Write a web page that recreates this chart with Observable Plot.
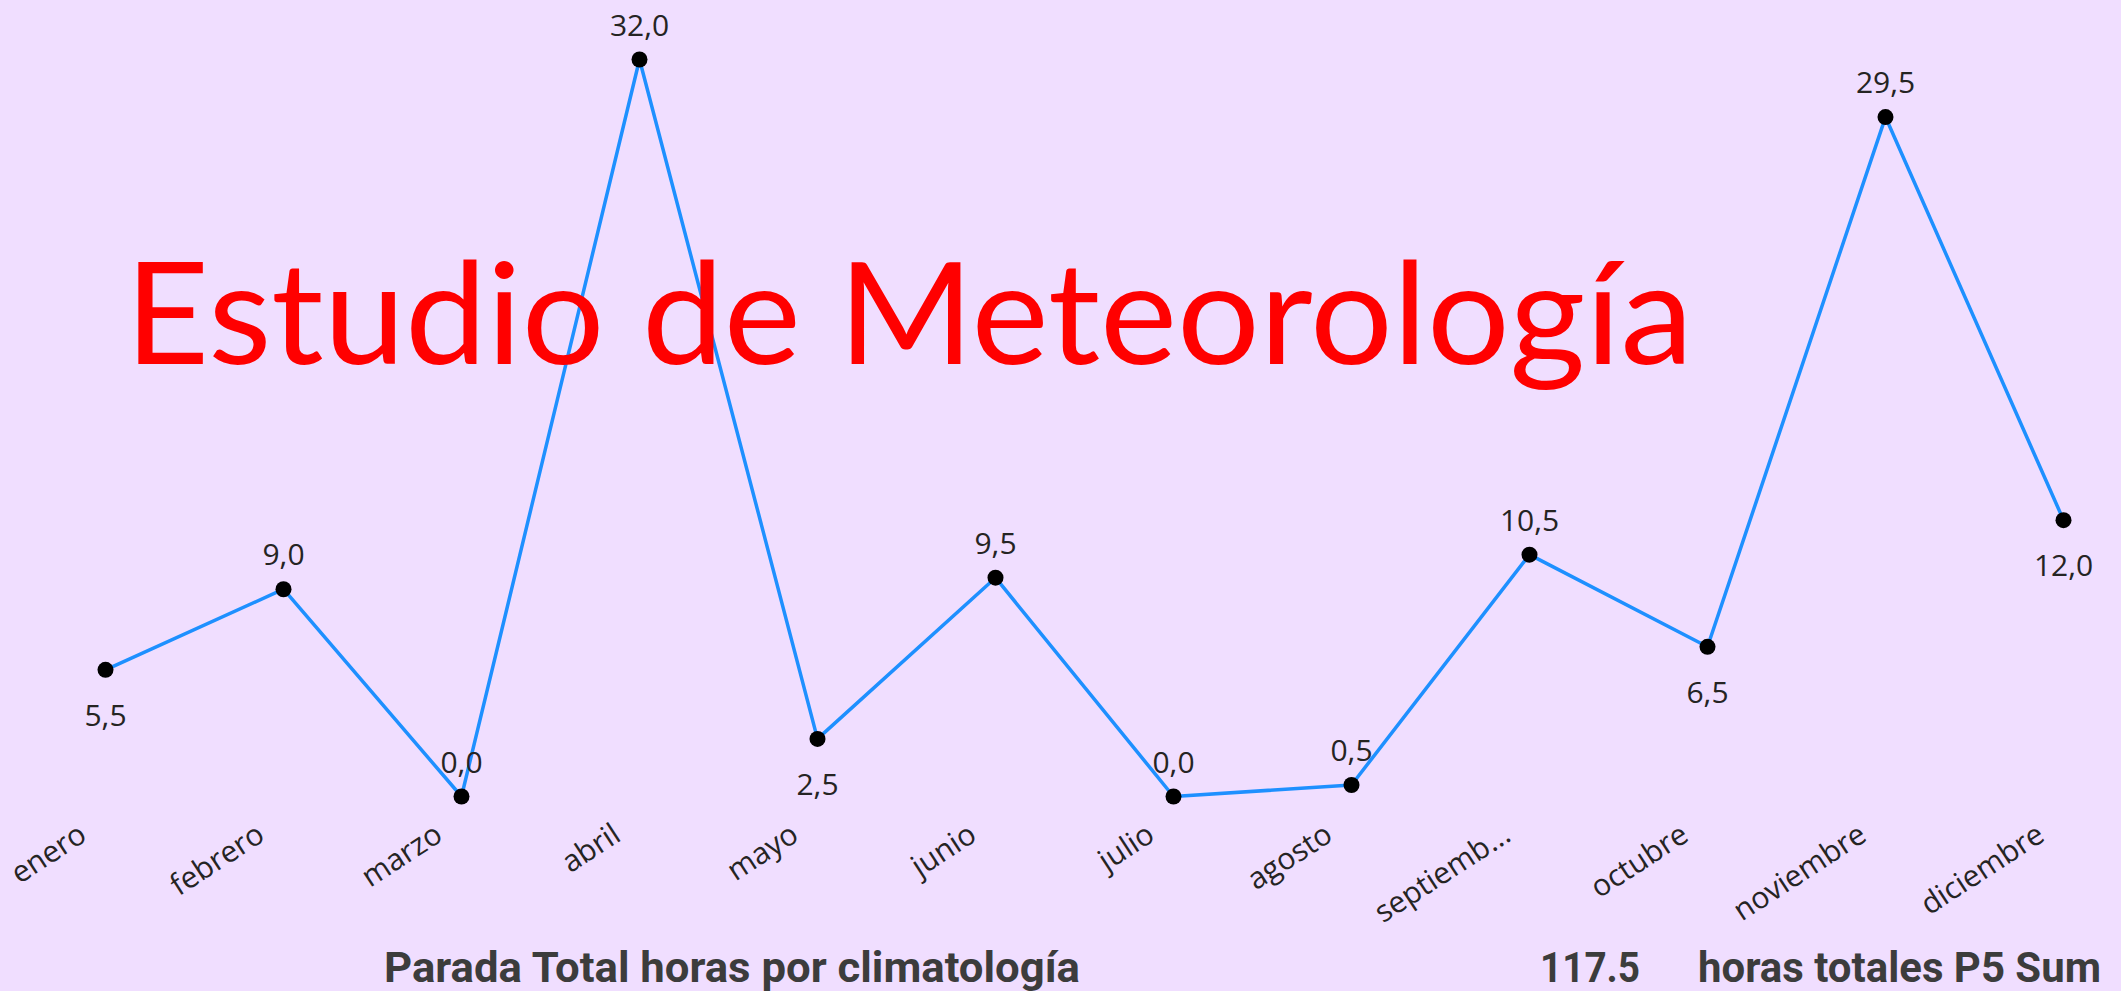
<!DOCTYPE html>
<html>
<head>
<meta charset="utf-8">
<script src="https://cdn.jsdelivr.net/npm/d3@7"></script>
<script src="https://cdn.jsdelivr.net/npm/@observablehq/plot@0.6"></script>
<style>
  html, body { margin: 0; padding: 0; background: #F0DEFF; width: 2121px; height: 991px; overflow: hidden; }
  #chart, #footer { display: block; }
  svg { display: block; }
</style>
</head>
<body>
<div id="chart"></div>
<div id="footer"></div>
<script>
// ---- data ----
const months = ["enero", "febrero", "marzo", "abril", "mayo", "junio", "julio", "agosto", "septiembre", "octubre", "noviembre", "diciembre"];
const tickLabels = ["enero", "febrero", "marzo", "abril", "mayo", "junio", "julio", "agosto", "septiemb...", "octubre", "noviembre", "diciembre"];
const hours = [5.5, 9.0, 0.0, 32.0, 2.5, 9.5, 0.0, 0.5, 10.5, 6.5, 29.5, 12.0];
const titleText = "Estudio de Meteorología";
const captionText = "Parada Total horas por climatología";
const totalValue = "117.5";
const totalLabel = "horas totales P5 Sum";

// label below the point when it is a positive local minimum
const data = months.map((m, i) => {
  const v = hours[i];
  const nb = [hours[i - 1], hours[i + 1]].filter(x => x !== undefined);
  const below = v > 0 && nb.every(x => v < x);
  return { month: m, label: tickLabels[i], value: v, below };
});
const fmt = v => v.toFixed(1).replace(".", ",");

const W = 2121, H = 916;
const labelFont = "'Open Sans', 'Noto Sans', sans-serif";
const txtColor = "#252423";

const plot = Plot.plot({
  width: W,
  height: H,
  marginLeft: 104,
  marginRight: 57,
  marginTop: 59,
  marginBottom: H - 796,
  style: { background: "transparent", fontFamily: labelFont, overflow: "visible" },
  x: { type: "point", domain: months, padding: 0, axis: null },
  y: { domain: [0, 32], axis: null },
  marks: [
    Plot.line(data, { x: "month", y: "value", stroke: "#1E90FF", strokeWidth: 3.5 }),
    Plot.dot(data, { x: "month", y: "value", r: 8, fill: "#000000" }),
    Plot.text(data, { filter: d => !d.below, x: "month", y: "value", text: d => fmt(d.value),
      lineAnchor: "bottom", dy: -24, fontSize: 30, fill: txtColor }),
    Plot.text(data, { filter: d => d.below, x: "month", y: "value", text: d => fmt(d.value),
      lineAnchor: "bottom", dy: 56, fontSize: 30, fill: txtColor }),
    Plot.text(data, { x: "month", text: "label", frameAnchor: "bottom", rotate: -33,
      textAnchor: "end", lineAnchor: "bottom", dx: -17, dy: 43, fontSize: 30, fill: txtColor })
  ]
});
document.getElementById("chart").appendChild(plot);

// overlaid title (drawn on top of the line)
const svgSel = d3.select(plot);
svgSel.append("text")
  .attr("x", 125)
  .attr("y", 364)
  .attr("text-anchor", "start")
  .attr("font-family", "Lato, 'Open Sans', sans-serif")
  .attr("font-size", 141)
  .attr("fill", "#FF0000")
  .attr("textLength", 1568)
  .attr("lengthAdjust", "spacingAndGlyphs")
  .text(titleText);

// footer
const FH = 991 - H;
const footer = d3.select("#footer").append("svg")
  .attr("width", W).attr("height", FH)
  .style("overflow", "visible")
  .style("font-family", "Roboto, 'Open Sans', sans-serif")
  .style("font-weight", "bold");
const fy = 982 - H;
footer.append("text").attr("x", 384).attr("y", fy).attr("font-size", 42).attr("fill", "#3C3C3C")
  .attr("textLength", 696).attr("lengthAdjust", "spacingAndGlyphs").text(captionText);
footer.append("text").attr("x", 1540).attr("y", fy).attr("font-size", 42).attr("fill", "#3C3C3C")
  .attr("textLength", 100).attr("lengthAdjust", "spacingAndGlyphs").text(totalValue);
footer.append("text").attr("x", 1698).attr("y", fy).attr("font-size", 42).attr("fill", "#3C3C3C")
  .attr("textLength", 403).attr("lengthAdjust", "spacingAndGlyphs").text(totalLabel);
</script>
</body>
</html>
